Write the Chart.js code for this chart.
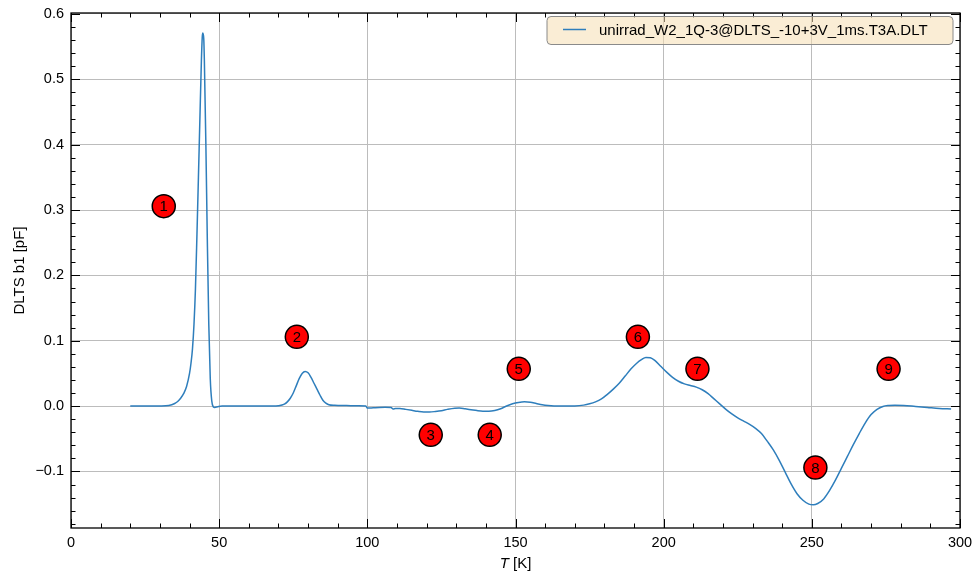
<!DOCTYPE html>
<html>
<head>
<meta charset="utf-8">
<script src="https://cdn.jsdelivr.net/npm/chart.js@4/dist/chart.umd.min.js"></script>
<style>
  html, body { margin: 0; padding: 0; background: #ffffff; }
  #wrap { width: 974px; height: 574px; }
</style>
</head>
<body>
<div id="wrap"><canvas id="c" width="974" height="574"></canvas></div>
<script>
// DLTS b1 spectrum: temperature (K) and signal (pF)
const temperature = [
  20, 25, 30, 33, 35, 36, 37, 38, 39, 40, 40.5, 41, 41.5, 42, 42.5, 43, 43.5, 44, 44.3, 44.5,
  44.8, 45, 45.5, 46, 46.5, 47, 47.5, 48, 48.5, 49.5, 51, 60, 68, 70, 72, 73, 74, 75, 76, 77,
  78, 79, 80, 81, 82, 83, 84, 85, 86, 87, 89, 93, 97, 99.5, 100, 102, 104, 106, 108, 108.7,
  109.5, 111, 113, 115, 117, 119, 121, 123, 125, 127, 129.5, 131, 133, 135, 137, 139, 141, 143, 145, 147,
  149, 151, 153, 155, 157, 159, 161, 163, 166, 170, 173, 175, 177, 179, 181, 183, 185, 187, 189, 191,
  192.5, 194, 195.5, 197, 199, 201, 203, 205, 207, 209, 211, 213, 215, 217, 219, 221, 223, 225, 227, 229,
  231, 233, 235, 237, 239, 241, 243, 245, 247, 249, 250.5, 252, 254, 256, 258, 260, 262, 264, 266, 268,
  270, 272, 274, 276, 278, 281, 285, 289, 293, 297
];
const signal = [
  0, 0, 0.0002, 0.001, 0.004, 0.007, 0.012, 0.019, 0.030, 0.050, 0.066, 0.088, 0.125, 0.180, 0.262, 0.350, 0.440, 0.528, 0.565, 0.571,
  0.562, 0.530, 0.405, 0.255, 0.125, 0.042, 0.008, -0.001, -0.002, -0.001, 0, 0, 0, 0.0005, 0.003, 0.0065, 0.012, 0.020, 0.031, 0.042,
  0.050, 0.053, 0.051, 0.044, 0.035, 0.026, 0.017, 0.009, 0.0045, 0.0022, 0.0012, 0.0008, 0.0004, 0, -0.003, -0.0025, -0.002, -0.0018, -0.002, -0.0045,
  -0.0035, -0.0035, -0.005, -0.0065, -0.008, -0.009, -0.009, -0.0082, -0.007, -0.005, -0.0032, -0.003, -0.0042, -0.0055, -0.0068, -0.0078, -0.008, -0.0068, -0.004, 0.0002,
  0.0035, 0.0055, 0.0065, 0.0058, 0.004, 0.0022, 0.001, 0.0003, 0, 0.0002, 0.0015, 0.0035, 0.0065, 0.011, 0.018, 0.026, 0.035, 0.046, 0.057, 0.066,
  0.071, 0.0745, 0.074, 0.070, 0.061, 0.052, 0.044, 0.038, 0.034, 0.0315, 0.029, 0.025, 0.019, 0.011, 0.003, -0.005, -0.012, -0.018, -0.023, -0.028,
  -0.034, -0.042, -0.054, -0.067, -0.083, -0.101, -0.119, -0.134, -0.144, -0.150, -0.151, -0.149, -0.142, -0.129, -0.113, -0.095, -0.077, -0.059, -0.042, -0.026,
  -0.013, -0.005, -0.0005, 0.001, 0.0015, 0.001, -0.0005, -0.002, -0.0035, -0.0045
];

// Numbered trap markers
const markerLabels = ['1', '2', '3', '4', '5', '6', '7', '8', '9'];
const markerT = [31.3, 76.2, 121.4, 141.3, 151.1, 191.3, 211.4, 251.2, 275.9];
const markerC = [0.306, 0.106, -0.044, -0.044, 0.057, 0.106, 0.057, -0.094, 0.057];

// Axis tick values
const xTicks = [0, 50, 100, 150, 200, 250, 300];
const yTicks = [-0.1, 0.0, 0.1, 0.2, 0.3, 0.4, 0.5, 0.6];

const seriesName = 'unirrad_W2_1Q-3@DLTS_-10+3V_1ms.T3A.DLT';
const FONT = "'Liberation Sans', Arial, Helvetica, sans-serif";

const linePoints = temperature.map((t, i) => ({ x: t, y: signal[i] }));
const markerPoints = markerT.map((t, i) => ({ x: t, y: markerC[i] }));

const fmtY = v => {
  const s = Math.abs(v).toFixed(1);
  return v < -1e-9 ? '\u2212' + s : s;
};

// Inner ticks on all four sides, frame, axis titles, legend and marker numbers
const decorations = {
  id: 'decorations',
  afterDatasetsDraw(chart) {
    const ctx = chart.ctx;
    const meta = chart.getDatasetMeta(0);
    ctx.save();
    ctx.fillStyle = '#000';
    ctx.font = '15px ' + FONT;
    ctx.textAlign = 'center';
    ctx.textBaseline = 'middle';
    meta.data.forEach((el, i) => {
      ctx.fillText(markerLabels[i], el.x, el.y + 1);
    });
    ctx.restore();
  },
  afterDraw(chart) {
    const ctx = chart.ctx;
    const a = chart.chartArea;
    const xs = chart.scales.x, ys = chart.scales.y;
    ctx.save();
    ctx.strokeStyle = '#000';
    ctx.lineWidth = 1;
    // x ticks
    for (let v = xs.min; v <= xs.max + 1e-6; v += 10) {
      const major = Math.abs(v % 50) < 1e-6;
      const len = major ? 9 : 4.5;
      const px = Math.round(xs.getPixelForValue(v)) + 0.5;
      ctx.beginPath();
      ctx.moveTo(px, a.bottom); ctx.lineTo(px, a.bottom - len);
      ctx.moveTo(px, a.top); ctx.lineTo(px, a.top + len);
      ctx.stroke();
    }
    // y ticks
    for (let k = -9; k <= 30; k++) {
      const v = k * 0.02;
      if (v < ys.min || v > ys.max) continue;
      const major = k % 5 === 0;
      const len = major ? 9 : 4.5;
      const py = Math.round(ys.getPixelForValue(v)) + 0.5;
      ctx.beginPath();
      ctx.moveTo(a.left, py); ctx.lineTo(a.left + len, py);
      ctx.moveTo(a.right, py); ctx.lineTo(a.right - len, py);
      ctx.stroke();
    }
    // frame
    ctx.lineWidth = 1.3;
    ctx.strokeRect(a.left, a.top, a.right - a.left, a.bottom - a.top);

    // axis titles
    ctx.fillStyle = '#000';
    ctx.textBaseline = 'middle';
    const xc = (a.left + a.right) / 2;
    ctx.font = 'italic 15px ' + FONT;
    const wT = ctx.measureText('T').width;
    ctx.font = '15px ' + FONT;
    const wRest = ctx.measureText(' [K]').width;
    let sx = xc - (wT + wRest) / 2;
    ctx.textAlign = 'left';
    ctx.font = 'italic 15px ' + FONT;
    ctx.fillText('T', sx, 564);
    ctx.font = '15px ' + FONT;
    ctx.fillText(' [K]', sx + wT, 564);

    ctx.save();
    ctx.translate(20, (a.top + a.bottom) / 2);
    ctx.rotate(-Math.PI / 2);
    ctx.textAlign = 'center';
    ctx.font = '15px ' + FONT;
    ctx.fillText('DLTS b1 [pF]', 0, 0);
    ctx.restore();

    // legend
    const lx = 547, ly = 16.5, lw = 406, lh = 28;
    ctx.beginPath();
    ctx.roundRect(lx, ly, lw, lh, 4);
    ctx.fillStyle = 'rgba(245, 222, 179, 0.55)';
    ctx.fill();
    ctx.strokeStyle = '#8a8a8a';
    ctx.lineWidth = 1;
    ctx.stroke();
    ctx.strokeStyle = '#2e7ebc';
    ctx.lineWidth = 1.5;
    ctx.beginPath();
    ctx.moveTo(563, 29.5); ctx.lineTo(586, 29.5);
    ctx.stroke();
    ctx.fillStyle = '#000';
    ctx.font = '15px ' + FONT;
    ctx.textAlign = 'left';
    ctx.fillText(seriesName, 599, 30.5);
    ctx.restore();
  }
};

new Chart(document.getElementById('c'), {
  type: 'scatter',
  data: {
    datasets: [
      {
        label: 'markers',
        data: markerPoints,
        pointRadius: 11.5,
        pointHoverRadius: 11.5,
        pointBackgroundColor: '#ff0000',
        pointBorderColor: '#000000',
        pointBorderWidth: 1.5,
        showLine: false,
        order: 0
      },
      {
        label: seriesName,
        data: linePoints,
        showLine: true,
        borderColor: '#2e7ebc',
        borderWidth: 1.5,
        pointRadius: 0,
        cubicInterpolationMode: 'monotone',
        fill: false,
        order: 1
      }
    ]
  },
  options: {
    responsive: false,
    animation: false,
    layout: { padding: { top: 13, right: 14, left: 0, bottom: 0 } },
    plugins: {
      legend: { display: false },
      tooltip: { enabled: false },
      title: { display: false }
    },
    scales: {
      x: {
        type: 'linear',
        min: 0,
        max: 300,
        afterBuildTicks: s => { s.ticks = xTicks.map(v => ({ value: v })); },
        afterFit: s => {
          s.height = 46;
          s.paddingLeft = 0; s.paddingRight = 0;
        },
        grid: { color: '#bcbcbc', lineWidth: 1, drawTicks: false },
        border: { display: false },
        ticks: {
          padding: 6,
          color: '#000',
          font: { family: FONT, size: 14.5 },
          maxRotation: 0,
          callback: v => String(v)
        }
      },
      y: {
        type: 'linear',
        min: -0.1865,
        max: 0.6015,
        afterBuildTicks: s => { s.ticks = yTicks.map(v => ({ value: v })); },
        afterFit: s => {
          s.width = 71;
          s.paddingTop = 0; s.paddingBottom = 0;
        },
        grid: { color: '#bcbcbc', lineWidth: 1, drawTicks: false },
        border: { display: false },
        ticks: {
          padding: 7,
          color: '#000',
          font: { family: FONT, size: 14.5 },
          callback: v => fmtY(v)
        }
      }
    }
  },
  plugins: [decorations]
});
</script>
</body>
</html>
